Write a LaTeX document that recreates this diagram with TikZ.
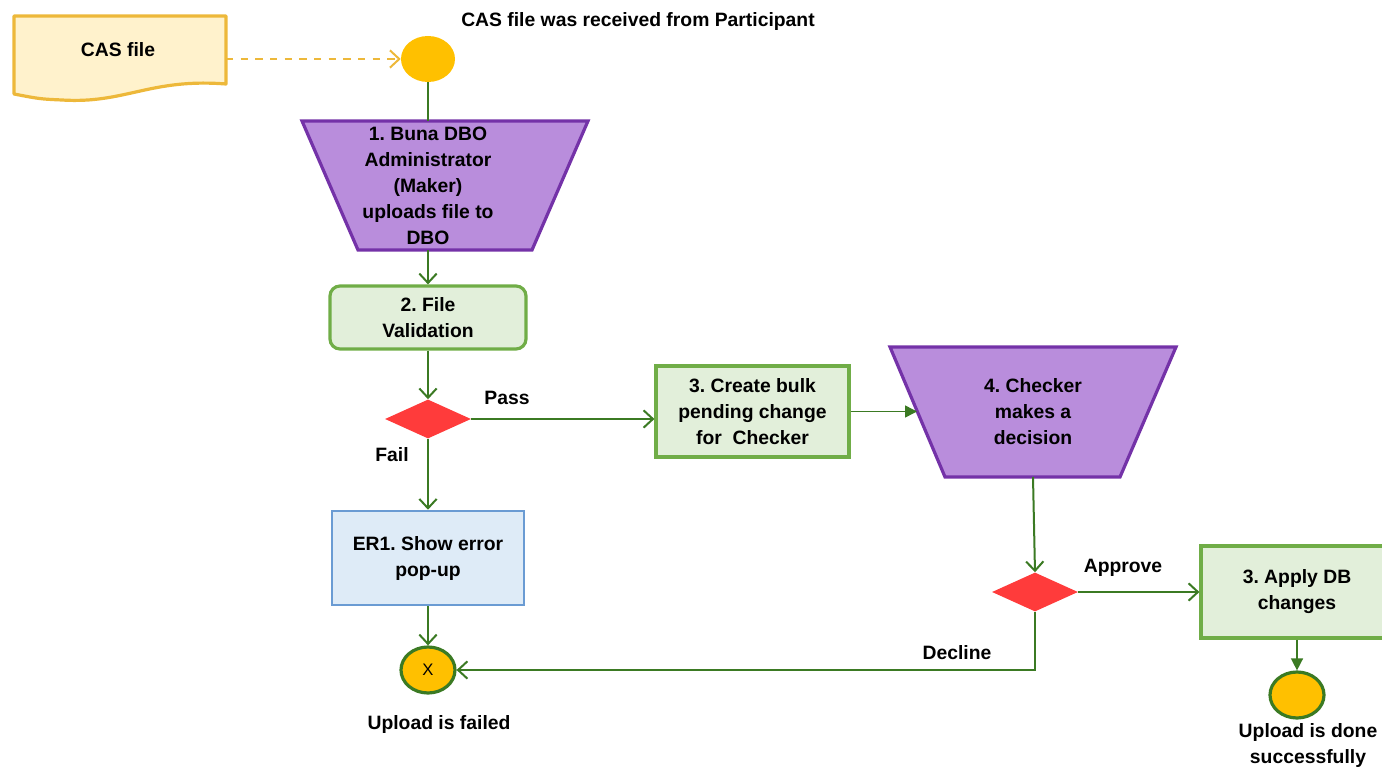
\documentclass[tikz,border=0pt]{standalone}
\usepackage{fontspec}
\setmainfont{Liberation Sans}
\usetikzlibrary{arrows.meta,shapes.geometric}

\definecolor{gline}{HTML}{3B7A23}
\definecolor{gfill}{HTML}{E2EFDA}
\definecolor{gedge}{HTML}{70AD47}
\definecolor{pfill}{HTML}{B98DDC}
\definecolor{pedge}{HTML}{7432A8}
\definecolor{bfill}{HTML}{DEEBF7}
\definecolor{bedge}{HTML}{6A9BD3}
\definecolor{yfill}{HTML}{FFF2CC}
\definecolor{yedge}{HTML}{EDB83A}
\definecolor{dot}{HTML}{FFC000}
\definecolor{decide}{HTML}{FF3B3B}

\begin{document}
\frenchspacing
\begin{tikzpicture}[x=0.75pt,y=-0.75pt,
  txt/.style={font=\bfseries\fontsize{14.5}{19.5}\selectfont,align=center,inner sep=0pt},
  greenbox/.style={draw=gedge,fill=gfill,line width=2.4pt,txt},
  bluebox/.style={draw=bedge,fill=bfill,line width=1.9pt,txt},
  trap/.style={draw=pedge,fill=pfill,line width=2.4pt,line join=miter},
  dia/.style={diamond,fill=decide,inner sep=0pt,minimum width=64.5pt,minimum height=29.25pt},
  dotnode/.style={ellipse,fill=dot,inner sep=0pt,minimum width=40.5pt,minimum height=34.5pt},
  endnode/.style={dotnode,draw=gline,line width=2.4pt},
  flow/.style={draw=gline,line width=1.5pt,-{Straight Barb[length=7pt,width=13pt]}},
  push/.style={draw=gline,line width=1.1pt,-{Triangle[length=9pt,width=9pt]}},
  plain/.style={draw=gline,line width=1.5pt}
]
\useasboundingbox (0,0) rectangle (1382,767);
\clip (0,0) rectangle (1382,767);

% incoming document
\draw[draw=yedge,fill=yfill,line width=2.4pt,line join=round]
  (14,16) -- (226,16) -- (226,84)
  .. controls (150,78) and (125,104) .. (62,100)
  .. controls (40,99) .. (14,94) -- cycle;
\node[txt] (doc) at (118,50) {CAS file};
\coordinate (docE) at (226,59);

% start event
\node[dotnode] (start) at (428,59) {};
\node[txt] (startlbl) at (638,22) {CAS file was received from Participant};

% step 1: manual upload
\draw[trap] (302,121) -- (588,121) -- (532,250) -- (358,250) -- cycle;
\coordinate (t1top) at (428,121);
\coordinate (t1bot) at (428,250);
\node[txt] (t1) at (428,186) {1. Buna DBO\\Administrator\\(Maker)\\uploads file to\\DBO};

% step 2: validation
\node[greenbox,rounded corners=7.5pt,minimum width=147pt,minimum height=47.25pt]
  (val) at (428,317.5) {2. File\\Validation};

% validation gateway
\node[dia] (d1) at (428,419) {};

% error path
\node[bluebox,minimum width=144pt,minimum height=70.5pt]
  (err) at (428,558) {ER1. Show error\\pop-up};
\node[endnode] (fail) at (428,670) {};
\node[font=\fontsize{12.5}{14}\selectfont,inner sep=0pt] (failx) at (428,670) {X};
\node[txt] (faillbl) at (439,724) {Upload is failed};

% step 3: pending change
\node[greenbox,minimum width=144.75pt,minimum height=68.25pt]
  (bulk) at (752.5,411.5) {3. Create bulk\\pending change\\for\ \ Checker};

% step 4: checker decision
\draw[trap] (890,347) -- (1176,347) -- (1120,477) -- (945,477) -- cycle;
\coordinate (t4left) at (917,411.5);
\coordinate (t4bot) at (1033,477);
\node[txt] (t4) at (1033,412) {4. Checker\\makes a\\decision};

% approval gateway
\node[dia] (d2) at (1035,592) {};
\coordinate (turn) at (1035,670);

% apply changes and success
\node[greenbox,minimum width=144pt,minimum height=69pt]
  (apply) at (1297,592) {3. Apply DB\\changes};
\node[endnode] (done) at (1297,695) {};
\node[txt] (donelbl) at (1308,745) {Upload is done\\successfully};

% connectors
\draw[draw=yedge,line width=1.5pt,dash pattern=on 5.5pt off 5.5pt,
  -{Straight Barb[length=7pt,width=13pt]}] (docE) -- (start.west);
\draw[plain] (start.south) -- (t1top);
\draw[flow] (t1bot) -- (val.north);
\draw[flow] (val.south) -- (d1.north);
\draw[flow] (d1.east) -- (d1.east -| bulk.west);
\draw[flow] (d1.south) -- (err.north);
\draw[flow] (err.south) -- (fail.north);
\draw[push] (bulk.east) -- (t4left);
\draw[flow] (t4bot) -- (d2.north);
\draw[flow] (d2.east) -- (apply.west);
\draw[flow] (d2.south) -- (turn) -- (fail.east);
\draw[push] (apply.south) -- (done.north);

% connector labels
\node[txt] (pass) at (507,398) {Pass};
\node[txt] (faillab) at (392,455) {Fail};
\node[txt] (approve) at (1123,568) {Approve};
\node[txt] (decline) at (957,653) {Decline};
\end{tikzpicture}
\end{document}
